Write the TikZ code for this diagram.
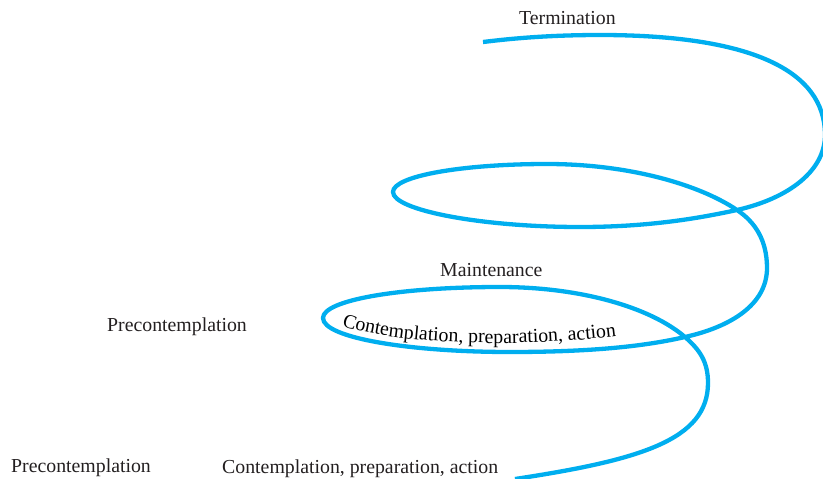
\documentclass[tikz,border=0pt]{standalone}
\usepackage{fontspec}
\setmainfont{Liberation Serif}
\usetikzlibrary{decorations.text}
\definecolor{spiralblue}{RGB}{0,174,239}
\definecolor{inkblack}{RGB}{35,31,32}
\newcommand{\lblfont}{\fontsize{19.8}{23}\selectfont}
\begin{document}
\begin{tikzpicture}[x=1pt,y=-1pt,
  lbl/.style={anchor=base west, inner sep=0pt, font=\lblfont, text=inkblack},
  spiral/.style={draw=spiralblue, line width=4.3pt, line cap=butt, line join=round}]
\useasboundingbox (0,0) rectangle (823,479);
\draw[spiral] (515,479) .. controls (640,460) and (708,440) .. (708,383)
 .. controls (708,362) and (700,350) .. (685,337)
 .. controls (650,307) and (580,287) .. (500,287)
 .. controls (400,287) and (323,300) .. (323,318)
 .. controls (323,338) and (410,352) .. (510,352)
 .. controls (600,352) and (650,345) .. (685,337)
 .. controls (730,327) and (767,305) .. (767,268)
 .. controls (767,240) and (755,222) .. (737,210)
 .. controls (700,185) and (630,164) .. (547,164)
 .. controls (462,164) and (393,176) .. (393,192)
 .. controls (393,210) and (480,227) .. (580,227)
 .. controls (650,227) and (700,218) .. (737,210)
 .. controls (790,198) and (825,170) .. (825,135)
 .. controls (825,70) and (750,35) .. (600,35)
 .. controls (540,35) and (500,40) .. (483,42);
\node[lbl] (term) at (519,24) {Termination};
\node[lbl] (maint) at (440,276) {Maintenance};
\node[lbl] (pre1) at (107,331) {Precontemplation};
\node[lbl] (pre2) at (11,472) {Precontemplation};
\node[lbl] (con2) at (222,473) {Contemplation, preparation, action};
\path[decorate, decoration={text along path, text align=left,
  text={|\lblfont|Contemplation, preparation, action}}]
  (342,326) .. controls (400,345) and (520,348) .. (617,336);
\end{tikzpicture}
\end{document}
